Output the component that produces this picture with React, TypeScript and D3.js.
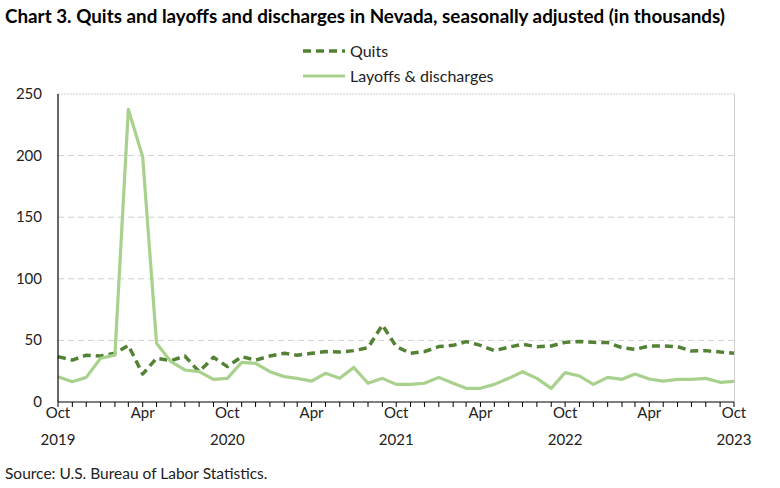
import * as d3 from 'd3'

const title = 'Chart 3. Quits and layoffs and discharges in Nevada, seasonally adjusted (in thousands)'
const source = 'Source: U.S. Bureau of Labor Statistics.'

const startMonth = new Date(2019, 9, 1)
const quits = [
  36.8, 34, 38, 37.3, 39.5, 46, 22.7, 35.5, 33.5, 37.3, 24.6, 36.3, 28.7, 36.8, 34, 37.3, 39.5,
  38, 39.5, 40.9, 40.6, 41.7, 44, 62.5, 45, 39.5, 40.9, 45, 46, 49, 46, 41.7, 44.5, 46.8, 44.9,
  45.5, 48.4, 49.2, 48.4, 48.2, 44.1, 42.7, 45.5, 45.5, 44.9, 41.4, 41.7, 40.6, 39.5,
]
const layoffs = [
  20.5, 16.5, 20, 35.5, 38, 237.5, 199, 47.6, 32.7, 26, 24.6, 18.4, 19.2, 32.2, 31.4, 24.6, 20.6,
  19.2, 17, 23.3, 19.2, 28.1, 15.2, 19.2, 14.3, 14.3, 15.2, 20, 15.2, 11.1, 11.1, 14.3, 19.2, 24.6,
  19.2, 11.1, 23.8, 21.1, 14.3, 20, 18.4, 22.7, 18.7, 17, 18.4, 18.4, 19.2, 16, 16.8,
]
const yTicks = [0, 50, 100, 150, 200, 250]
const monthLabels = ['Oct', 'Apr']

const dates = quits.map((_, i) => d3.timeMonth.offset(startMonth, i))

const width = 780
const height = 488
const left = 58
const right = 734
const top = 94
const bottom = 402
const font = 'Lato, "Open Sans", sans-serif'

const App = () => {
  const x = d3.scaleTime().domain([dates[0], dates[dates.length - 1]]).range([left, right])
  const y = d3.scaleLinear().domain([0, 250]).range([bottom, top])

  const line = d3
    .line<number>()
    .x((_, i) => x(dates[i]))
    .y(d => y(d))

  const series = [
    { name: 'Quits', values: quits, color: '#548235', width: 3.5, dash: '8,5' },
    { name: 'Layoffs & discharges', values: layoffs, color: '#a9d18e', width: 3.2, dash: '' },
  ]

  const labelled = dates.filter(d => d.getMonth() === 9 || d.getMonth() === 3)

  return (
    <svg width={width} height={height} style={{ position: 'absolute', left: 0, top: 0 }}>
      <rect width={width} height={height} fill='#fff' />
      <text
        x={5}
        y={23}
        fontFamily={font}
        fontWeight='bold'
        fontSize={18}
        fill='#000'
        textLength={720}
        lengthAdjust='spacingAndGlyphs'
      >
        {title}
      </text>

      {series.map((s, i) => (
        <g key={s.name} transform={`translate(303,${51 + i * 25})`}>
          <line x1={0} x2={42} y1={0} y2={0} stroke={s.color} strokeWidth={s.width} strokeDasharray={s.dash} />
          <text x={47} y={5.5} fontFamily={font} fontSize={16} fill='#222'>
            {s.name}
          </text>
        </g>
      ))}

      {yTicks.map(t => (
        <g key={t}>
          {t > 0 && (
            <line
              x1={left}
              x2={right}
              y1={y(t)}
              y2={y(t)}
              stroke='#cfcfcf'
              strokeWidth={1}
              strokeDasharray={t === 250 ? '2,1' : '6,4'}
            />
          )}
          <text x={42} y={y(t) + 5} textAnchor='end' fontFamily={font} fontSize={15} fill='#222'>
            {t}
          </text>
        </g>
      ))}
      <line x1={right + 0.5} x2={right + 0.5} y1={top} y2={bottom} stroke='#d0d0d0' />

      {series.map(s => (
        <path
          key={s.name}
          d={line(s.values) ?? ''}
          fill='none'
          stroke={s.color}
          strokeWidth={s.width}
          strokeDasharray={s.dash}
          strokeLinejoin='round'
        />
      ))}

      <line x1={left} x2={left} y1={top} y2={bottom} stroke='#000' strokeWidth={1.2} />
      <line x1={left} x2={right} y1={bottom} y2={bottom} stroke='#000' strokeWidth={1.2} />
      {dates.map((d, i) => (
        <line key={i} x1={x(d)} x2={x(d)} y1={bottom} y2={bottom + 5} stroke='#000' strokeWidth={1} />
      ))}
      {labelled.map((d, i) => (
        <g key={i}>
          <text x={x(d)} y={bottom + 16} textAnchor='middle' fontFamily={font} fontSize={15} fill='#222'>
            {monthLabels[d.getMonth() === 9 ? 0 : 1]}
          </text>
          {d.getMonth() === 9 && (
            <text x={x(d)} y={bottom + 43} textAnchor='middle' fontFamily={font} fontSize={15} fill='#222'>
              {d.getFullYear()}
            </text>
          )}
        </g>
      ))}

      <text x={5} y={479} fontFamily={font} fontSize={15.5} fill='#222'>
        {source}
      </text>
    </svg>
  )
}

export default App
